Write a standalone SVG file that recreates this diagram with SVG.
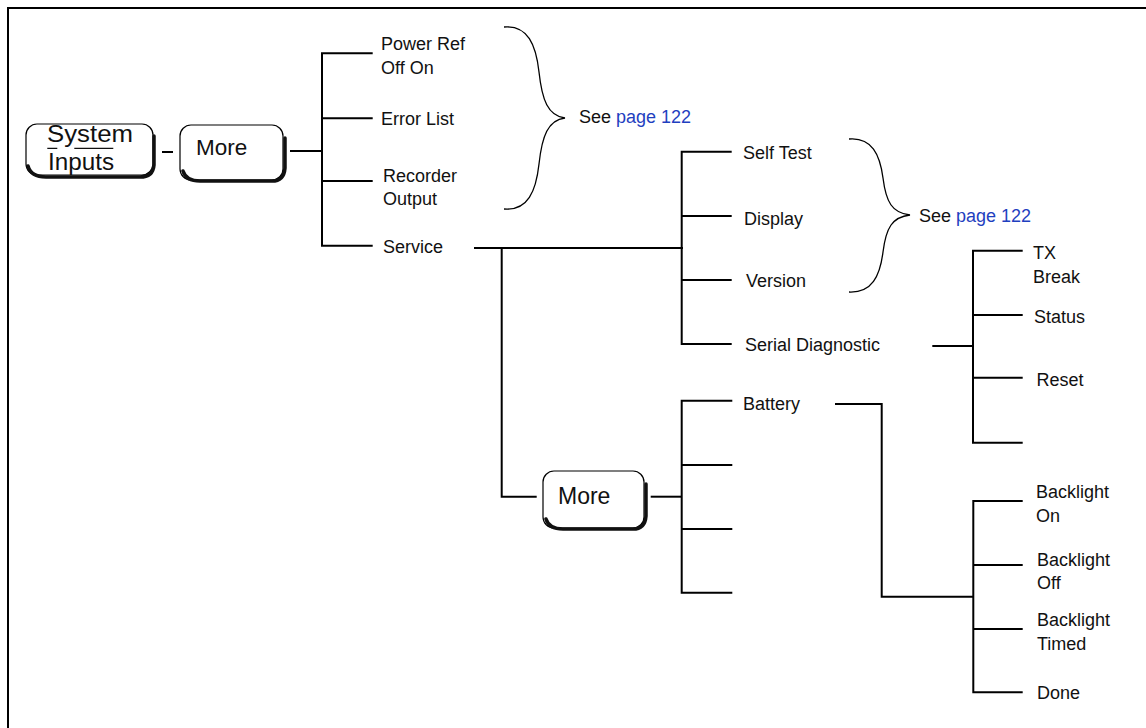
<svg xmlns="http://www.w3.org/2000/svg" width="1146" height="728" viewBox="0 0 1146 728">
<style>
.lbl{font-family:"Liberation Sans",Arial,sans-serif;font-size:18px;fill:#111}
.btn{font-family:"Liberation Sans",Arial,sans-serif;fill:#111}
.blue{fill:#1f3fbf}
.cn{fill:none;stroke:#000;stroke-width:2}
.brace{fill:none;stroke:#000;stroke-width:1.3}
.key{fill:#fff;stroke:#000;stroke-width:1.2}
.shadow{fill:none;stroke:#111;stroke-width:3.5;stroke-linecap:round;stroke-linejoin:round}
</style>
<rect width="1146" height="728" fill="#fff"/>
<path d="M8,740 V8 H1150" fill="none" stroke="#000" stroke-width="2"/>

<g id="connectors">
<path class="cn" d="M162,152 H173"/>
<path class="cn" d="M290,151 H322"/>
<path class="cn" d="M372.7,53.3 H322 V245.7 H372.7 M322,118.3 H372.7 M322,181 H372.7"/>
<path class="cn" d="M474,248 H683"/>
<path class="cn" d="M731.7,151.7 H681.7 V344 H731.7 M681.7,216 H731.7 M681.7,280 H731.7"/>
<path class="cn" d="M501.7,248 V496.7 H536.7"/>
<path class="cn" d="M650.7,496.7 H681.7"/>
<path class="cn" d="M732.3,400.7 H681.7 V592.7 H732.3 M681.7,465 H732.3 M681.7,529 H732.3"/>
<path class="cn" d="M932.3,346 H973"/>
<path class="cn" d="M1022.7,250.7 H973 V442.7 H1022.7 M973,315 H1022.7 M973,377.7 H1022.7"/>
<path class="cn" d="M835,404 H881.7 V596.7 H973.3"/>
<path class="cn" d="M1022.7,501 H973.3 V692.3 H1022.7 M973.3,565 H1022.7 M973.3,629 H1022.7"/>
<path class="brace" d="M504,27 C528,25 536,45 539,72 C542,100 548,116 565,118 C548,120 542,136 539,164 C536,191 528,211 504,209"/>
<path class="brace" d="M849,139 C872,137 880,155 883,178 C886,202 892,213 910,215 C892,217 886,228 883,252 C880,276 872,293 849,292"/>
</g>

<g id="system-inputs">
<rect class="key" x="26" y="124" width="127" height="51" rx="11"/>
<path class="shadow" d="M28,166 Q31,177 46,177 H140 Q153,177 154,165 V136"/>
<text class="btn" x="47" y="142" font-size="23" textLength="86" lengthAdjust="spacingAndGlyphs">System</text>
<text class="btn" x="48" y="170" font-size="23" textLength="66" lengthAdjust="spacingAndGlyphs">Inputs</text>
<path d="M47.3,148.3 H57.3 M74.3,148.3 H113.3" stroke="#111" stroke-width="1.3"/>
</g>

<g id="more-1">
<rect class="key" x="180" y="125" width="103" height="55" rx="11"/>
<path class="shadow" d="M183,171 Q186,181 200,181 H272 Q284,181 285,168 V138"/>
<text class="btn" x="196" y="155" font-size="22.5">More</text>
</g>

<g id="power-ref"><text class="lbl" x="381" y="50">Power Ref</text><text class="lbl" x="381" y="74">Off On</text></g>
<g id="error-list"><text class="lbl" x="381" y="125">Error List</text></g>
<g id="recorder-output"><text class="lbl" x="383" y="182">Recorder</text><text class="lbl" x="383" y="205">Output</text></g>
<g id="service"><text class="lbl" x="383" y="253">Service</text></g>
<g id="see-1"><text class="lbl" x="579" y="123">See <tspan class="blue">page 122</tspan></text></g>

<g id="self-test"><text class="lbl" x="743" y="159">Self Test</text></g>
<g id="display"><text class="lbl" x="744" y="225">Display</text></g>
<g id="version"><text class="lbl" x="746" y="287">Version</text></g>
<g id="serial-diagnostic"><text class="lbl" x="745" y="351">Serial Diagnostic</text></g>
<g id="see-2"><text class="lbl" x="919" y="222">See <tspan class="blue">page 122</tspan></text></g>

<g id="tx-break"><text class="lbl" x="1033" y="259">TX</text><text class="lbl" x="1033" y="283">Break</text></g>
<g id="status"><text class="lbl" x="1034" y="323">Status</text></g>
<g id="reset"><text class="lbl" x="1036.5" y="386">Reset</text></g>

<g id="more-2">
<rect class="key" x="543" y="471" width="101" height="57" rx="11"/>
<path class="shadow" d="M546,519 Q549,529 563,529 H633 Q645,529 646,516 V484"/>
<text class="btn" x="558" y="504" font-size="23">More</text>
</g>

<g id="battery"><text class="lbl" x="743" y="410">Battery</text></g>

<g id="backlight-on"><text class="lbl" x="1036" y="498">Backlight</text><text class="lbl" x="1036" y="522">On</text></g>
<g id="backlight-off"><text class="lbl" x="1037" y="566">Backlight</text><text class="lbl" x="1037" y="589">Off</text></g>
<g id="backlight-timed"><text class="lbl" x="1037" y="626">Backlight</text><text class="lbl" x="1037" y="650">Timed</text></g>
<g id="done"><text class="lbl" x="1037" y="699">Done</text></g>
</svg>
